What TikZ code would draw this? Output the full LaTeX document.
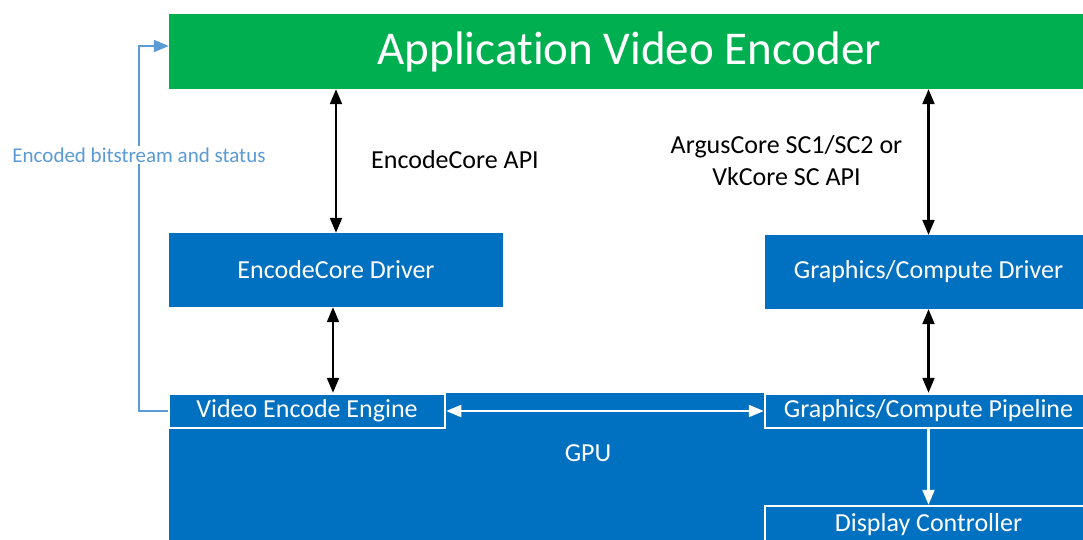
\documentclass[tikz,border=0pt]{standalone}
\usepackage{fontspec}
\setmainfont{Carlito}[Ligatures={NoCommon}]
\usetikzlibrary{arrows.meta}
\definecolor{appgreen}{HTML}{00B050}
\definecolor{gpublue}{HTML}{0070C0}
\definecolor{fbblue}{HTML}{5B9BD5}
\tikzset{
  blk/.style={fill=gpublue, text=white, inner sep=0pt, font=\fontsize{26}{28}\selectfont},
  unit/.style={blk, draw=white, line width=2.5pt},
  api/.style={{Triangle[width=12pt,length=15pt]}-{Triangle[width=12pt,length=15pt]}, line width=2.2pt, black},
  bus/.style={{Triangle[width=12pt,length=15pt]}-{Triangle[width=12pt,length=15pt]}, line width=2.2pt, white},
}
\begin{document}
\begin{tikzpicture}[x=1pt,y=-1pt]
        \useasboundingbox (0,0) rectangle (1083,539);
        \clip (0,0) rectangle (1083,539);
        
        %Shape: Rectangle [application]
        \node [fill=appgreen, text=white, inner sep=0pt, minimum width=921pt, minimum height=75pt, font=\fontsize{47}{50}\selectfont] (app) at (629.5,51.5) {Application Video Encoder};
        %Shape: Rectangle [drivers]
        \node [blk, minimum width=334pt, minimum height=74pt] (encdrv) at (336,270) {EncodeCore Driver};
        \node [blk, minimum width=327pt, minimum height=74pt] (gfxdrv) at (928.5,272) {Graphics/Compute Driver};
        %Shape: Rectangle [gpu]
        \fill [gpublue] (169,393) rectangle (1100,560);
        \node [text=white, font=\fontsize{26}{28}\selectfont] (gpu) at (588,453) {GPU};
        %Shape: Rectangle [engines]
        \node [unit, minimum width=276pt, minimum height=34pt] (venc) at (307,411) {Video Encode Engine};
        \node [unit, minimum width=327pt, minimum height=34pt] (gfxpipe) at (928.5,411) {Graphics/Compute Pipeline};
        \node [unit, minimum width=327pt, minimum height=38pt] (disp) at (928.5,525) {Display Controller};
        
        %Straight Lines [api]
        \draw [api] (encdrv.north |- app.south) -- (encdrv.north);
        \draw [api] (gfxdrv.north |- app.south) -- (gfxdrv.north);
        \draw [api] ([xshift=-3pt]encdrv.south) -- ([xshift=-3pt]encdrv.south |- venc.north);
        \draw [api] (gfxdrv.south) -- (gfxdrv.south |- gfxpipe.north);
        %Straight Lines [gpu internal]
        \draw [bus] (venc.east) -- (gfxpipe.west);
        \draw [white, line width=2.2pt, -{Triangle[width=12pt,length=15pt]}] (gfxpipe.south) -- (disp.north);
        %Straight Lines [feedback]
        \draw [fbblue, line width=2pt, -{Triangle[width=12pt,length=15pt]}] (venc.west) -- ++(-29,0) |- ([yshift=5.5pt]app.west);
        
        % Text Node
        \node [fill=white, text=fbblue, inner sep=2pt, font=\fontsize{21}{23}\selectfont] (fblabel) at (139,155) {Encoded bitstream and status};
        % Text Node
        \node [anchor=west, inner sep=0pt, font=\fontsize{26}{28}\selectfont] (encapi) at (371,160) {EncodeCore API};
        % Text Node
        \node [align=center, inner sep=0pt, font=\fontsize{26}{32}\selectfont] (gfxapi) at (786.5,161) {ArgusCore SC1/SC2 or\\VkCore SC API};
        
        
        \end{tikzpicture}
\end{document}
